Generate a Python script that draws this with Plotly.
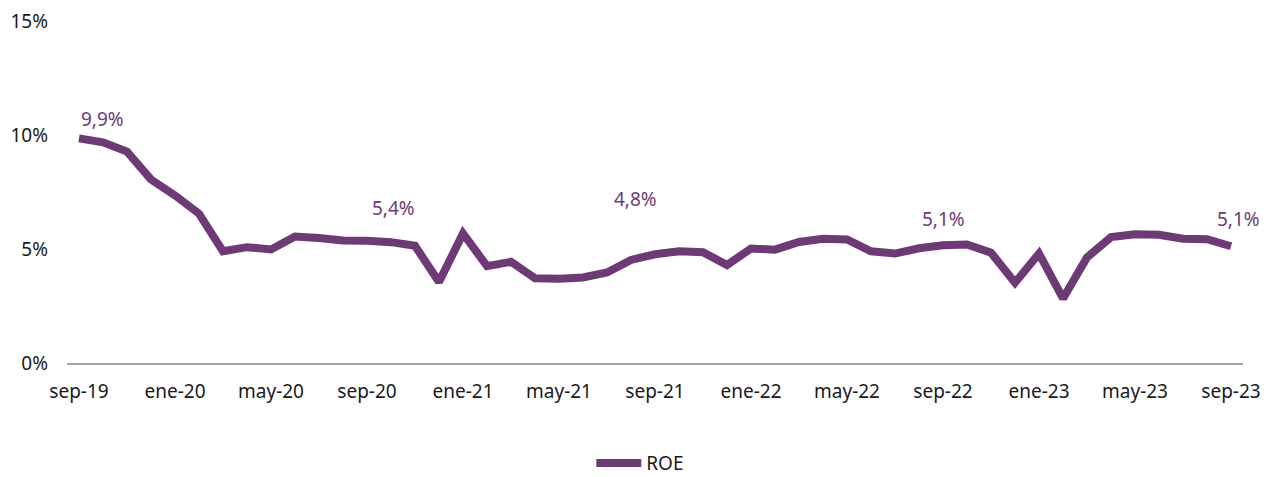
import plotly.graph_objects as go

months = ["sep-19", "oct-19", "nov-19", "dic-19",
          "ene-20", "feb-20", "mar-20", "abr-20", "may-20", "jun-20", "jul-20", "ago-20",
          "sep-20", "oct-20", "nov-20", "dic-20",
          "ene-21", "feb-21", "mar-21", "abr-21", "may-21", "jun-21", "jul-21", "ago-21",
          "sep-21", "oct-21", "nov-21", "dic-21",
          "ene-22", "feb-22", "mar-22", "abr-22", "may-22", "jun-22", "jul-22", "ago-22",
          "sep-22", "oct-22", "nov-22", "dic-22",
          "ene-23", "feb-23", "mar-23", "abr-23", "may-23", "jun-23", "jul-23", "ago-23",
          "sep-23"]

roe = [9.85, 9.68, 9.27, 8.05, 7.35, 6.55, 4.90, 5.08, 4.98, 5.55, 5.48, 5.37,
       5.36, 5.30, 5.14, 3.55, 5.68, 4.25, 4.44, 3.72, 3.70, 3.75, 3.97, 4.52,
       4.77, 4.90, 4.86, 4.30, 5.02, 4.97, 5.31, 5.45, 5.42, 4.90, 4.80, 5.03,
       5.16, 5.20, 4.84, 3.52, 4.80, 2.83, 4.63, 5.52, 5.65, 5.62, 5.45, 5.43,
       5.12]

tick_labels = ["sep-19", "ene-20", "may-20", "sep-20", "ene-21", "may-21", "sep-21",
               "ene-22", "may-22", "sep-22", "ene-23", "may-23", "sep-23"]

y_ticks = [0, 5, 10, 15]
y_tick_text = ["0%", "5%", "10%", "15%"]

label_months = ["sep-19", "sep-20", "sep-21", "sep-22", "sep-23"]
label_texts = ["9,9%", "5,4%", "4,8%", "5,1%", "5,1%"]

PURPLE = "#6D3A76"
FONT = "Noto Sans"
FS = 19

fig = go.Figure()
fig.add_trace(go.Scatter(
    x=months, y=roe, mode="lines", name="ROE",
    line=dict(color=PURPLE, width=8),
))

# label offsets (pixels) relative to the point
shifts = [(23, 19), (26, 33), (-20, 55), (0, 26), (7, 27)]
for m, t, (dx, dy) in zip(label_months, label_texts, shifts):
    yv = roe[months.index(m)]
    fig.add_annotation(x=m, y=yv, text=t, showarrow=False,
                       xshift=dx, yshift=dy,
                       font=dict(family=FONT, size=FS, color=PURPLE))

# the page body adds an 8px offset, so the figure is 8px smaller each way
fig.update_layout(
    width=1262, height=469,
    margin=dict(l=59, r=27, t=13, b=114, autoexpand=False),
    paper_bgcolor="white", plot_bgcolor="white",
    font=dict(family=FONT, size=FS, color="#1a1a1a"),
    showlegend=True,
    legend=dict(orientation="h", x=0.4875, xanchor="center", y=-0.293, yanchor="middle",
                font=dict(family=FONT, size=FS, color="#1a1a1a"),
                itemwidth=45),
)
fig.update_xaxes(
    type="category", tickmode="array", tickvals=tick_labels, ticktext=tick_labels,
    range=[-0.5, len(months) - 0.5],
    showline=True, linecolor="#A6A6A6", linewidth=1.5,
    showgrid=False, ticks="", ticklabelstandoff=10, automargin=False,
    ticklabeloverflow="allow",
)
fig.update_yaxes(
    range=[0, 15], tickmode="array", tickvals=y_ticks, ticktext=y_tick_text,
    showgrid=False, zeroline=False, showline=False, ticks="",
    ticklabelstandoff=18, automargin=False, ticklabeloverflow="allow",
)

fig.write_html("out.html")
